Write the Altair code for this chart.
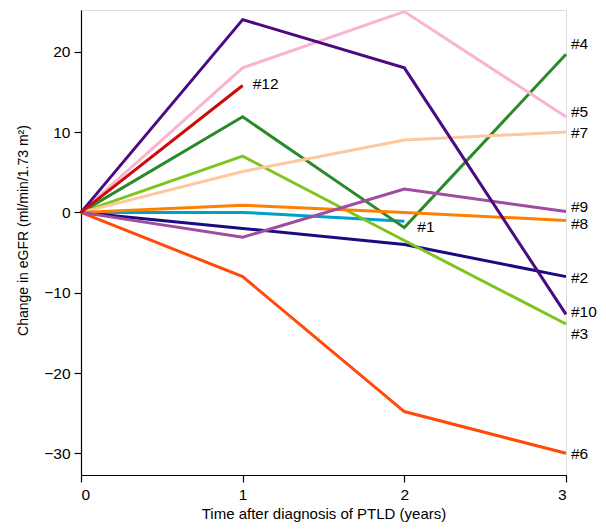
import altair as alt
import pandas as pd

patients = ["#1", "#2", "#3", "#4", "#5", "#6", "#7", "#8", "#9", "#10", "#12"]
colors = ["#00A0C8", "#1C0A80", "#7DC41F", "#2A8A2A", "#F9B4CF", "#FF4A0A",
          "#FDC8A0", "#FF8000", "#9E4DA0", "#4B0A82", "#CC0A0A"]
years = [0, 1, 2, 3]
values = {
    "#1": [0, 0, -1.1, None],
    "#2": [0, -2, -4, -8],
    "#3": [0, 7, -3.5, -13.9],
    "#4": [0, 11.9, -1.9, 19.7],
    "#5": [0, 18, 25, 11.9],
    "#6": [0, -8, -24.8, -30],
    "#7": [0, 5.1, 9, 10],
    "#8": [0, 0.9, 0, -1],
    "#9": [0, -3.1, 2.9, 0.1],
    "#10": [0, 24, 18, -12.7],
    "#12": [0, 15.8, None, None],
}
# label pixel offsets (dx, dy)
label_offsets = {
    "#1": (13, 6), "#2": (5, 1), "#3": (5, 10), "#4": (5, -10), "#5": (5, -5),
    "#6": (5, 1), "#7": (5, 1), "#8": (5, 4), "#9": (5, -5), "#10": (5, -2),
    "#12": (10, -1),
}

rows = []
for p in patients:
    for t, v in zip(years, values[p]):
        if v is not None:
            rows.append({"patient": p, "year": t, "egfr": v})
df = pd.DataFrame(rows)

font = "Liberation Sans"
lab_size = 15.5
xscale = alt.Scale(domain=[0, 3], nice=False, zero=False)
yscale = alt.Scale(domain=[-32.7, 25.2], nice=False, zero=False)
cscale = alt.Scale(domain=patients, range=colors)

common_axis = dict(labelFontSize=lab_size, labelFont=font, titleFont=font,
                   titleFontWeight="normal", domainColor="black", tickColor="black",
                   labelColor="black", titleColor="black", tickSize=7, grid=False,
                   domainWidth=1.2, tickWidth=1.2)

lines = alt.Chart(df).mark_line(strokeWidth=3).encode(
    x=alt.X("year:Q", scale=xscale,
            axis=alt.Axis(values=[0, 1, 2, 3], title="Time after diagnosis of PTLD (years)",
                          format="d", labelPadding=5, titlePadding=4, titleFontSize=15,
                          **common_axis)),
    y=alt.Y("egfr:Q", scale=yscale,
            axis=alt.Axis(values=[-30, -20, -10, 0, 10, 20],
                          title="Change in eGFR (ml/min/1.73 m²)", titleFontSize=14,
                          titleY=220,
                          labelPadding=4, titlePadding=13, **common_axis)),
    color=alt.Color("patient:N", scale=cscale, legend=None),
    detail="patient:N",
)

layers = [lines]
for p in patients:
    ser = [(t, v) for t, v in zip(years, values[p]) if v is not None]
    t_end, v_end = ser[-1]
    dx, dy = label_offsets[p]
    ldf = pd.DataFrame([{"year": t_end, "egfr": v_end, "label": p}])
    layers.append(
        alt.Chart(ldf).mark_text(align="left", baseline="middle", dx=dx, dy=dy,
                                 fontSize=lab_size, font=font, color="black").encode(
            x=alt.X("year:Q", scale=xscale),
            y=alt.Y("egfr:Q", scale=yscale),
            text="label:N",
        )
    )

chart = alt.layer(*layers).properties(
    width=485, height=465,
    autosize=alt.AutoSizeParams(type="none"),
    padding={"left": 73, "top": 2, "right": 32, "bottom": 48},
).configure_view(stroke=None).configure(background="white")

chart.save("out.html", embed_options={"renderer": "svg", "actions": False})
